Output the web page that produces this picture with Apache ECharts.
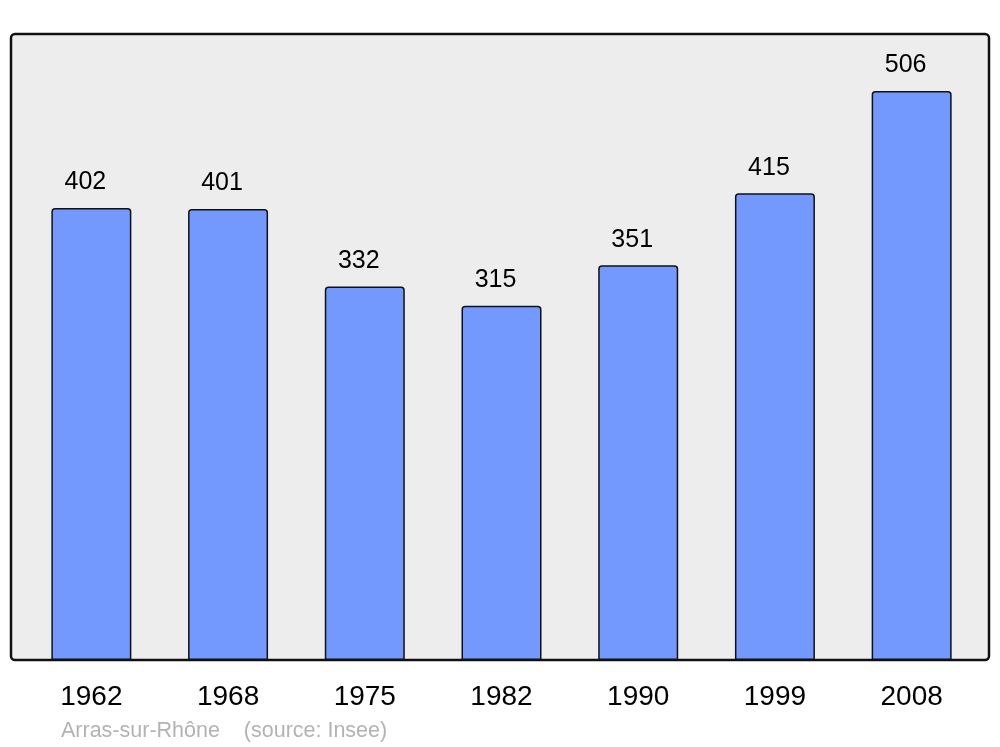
<!DOCTYPE html>
<html>
<head>
<meta charset="utf-8">
<script src="https://cdn.jsdelivr.net/npm/echarts@6/dist/echarts.min.js"></script>
<style>
  html, body { margin: 0; padding: 0; background: #fff; }
  #chart { width: 1000px; height: 747px; }
</style>
</head>
<body>
<div id="chart"></div>
<script>
// données population (Insee)
const years = ['1962', '1968', '1975', '1982', '1990', '1999', '2008'];
const population = [402, 401, 332, 315, 351, 415, 506];
const footer = 'Arras-sur-Rhône    (source: Insee)';

const chart = echarts.init(document.getElementById('chart'));
const option = {
  animation: false,
  textStyle: { fontFamily: 'Liberation Sans, Arial, sans-serif' },
  grid: { left: 23, right: 20, top: 34, bottom: 87 },
  graphic: [
    {
      // fond gris du cadre
      type: 'rect',
      z: -10,
      silent: true,
      shape: { x: 11, y: 34, width: 978, height: 626, r: 4 },
      style: { fill: '#ededed', stroke: '#111', lineWidth: 2.5 }
    },
    {
      type: 'text',
      left: 61,
      top: 720,
      silent: true,
      style: {
        text: footer,
        fill: '#b3b3b3',
        font: '21.5px "Liberation Sans", Arial, sans-serif'
      }
    }
  ],
  xAxis: {
    type: 'category',
    data: years,
    axisLine: { show: false },
    axisTick: { show: false },
    axisLabel: { color: '#000', fontSize: 28, margin: 23, align: 'center' }
  },
  yAxis: {
    type: 'value',
    min: 0,
    max: 556.6,
    show: false,
    splitLine: { show: false }
  },
  series: [{
    type: 'bar',
    data: population,
    barWidth: 80,
    itemStyle: {
      color: '#7399ff',
      borderColor: '#111',
      borderWidth: 1.5,
      borderRadius: [3, 3, 0, 0]
    },
    label: {
      show: true,
      position: 'top',
      distance: 15,
      offset: [-6, 2],
      color: '#000',
      fontSize: 25
    }
  }]
};
chart.setOption(option);
</script>
</body>
</html>
